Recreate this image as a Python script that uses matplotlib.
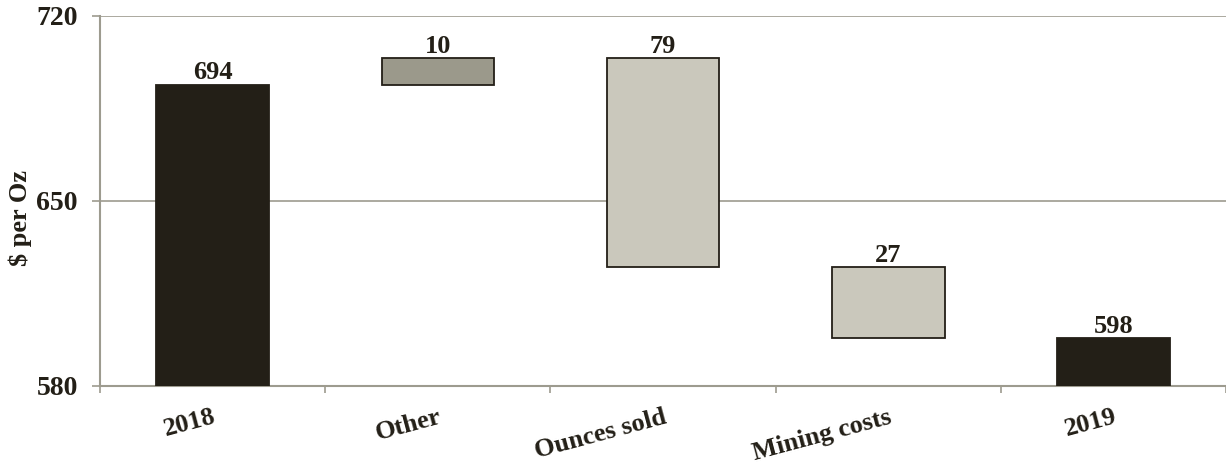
import matplotlib
matplotlib.use('Agg')
import matplotlib.pyplot as plt
import numpy as np

# Cost per ounce bridge, 2018 -> 2019
categories = ['2018', 'Other', 'Ounces sold', 'Mining costs', '2019']
start_value = 694
changes = [10, -79, -27]
end_value = 598
label_values = [694, 10, 79, 27, 598]

plt.rcParams['font.family'] = ['Liberation Serif', 'DejaVu Serif']
plt.rcParams['font.weight'] = 'bold'

dark = '#231f17'
mid = '#9b998b'
light = '#cac8bc'
axis_grey = '#9d9b8f'

# waterfall geometry
bottoms, heights, colors = [580], [start_value - 580], [dark]
level = start_value
for ch in changes:
    new_level = level + ch
    bottoms.append(min(level, new_level))
    heights.append(abs(ch))
    colors.append(mid if ch > 0 else light)
    level = new_level
bottoms.append(580)
heights.append(end_value - 580)
colors.append(dark)

fig = plt.figure(figsize=(12.26, 4.65), dpi=100)
ax = fig.add_axes([0.0816, 0.170, 0.9184, 0.7956])

x = np.arange(len(categories))
for i in range(len(categories)):
    ax.bar(x[i], heights[i], bottom=bottoms[i], width=0.5, color=colors[i],
           edgecolor=dark, linewidth=1.3, zorder=3)
    top = bottoms[i] + heights[i]
    ax.text(x[i], top + 0.1, str(label_values[i]), ha='center', va='bottom',
            fontsize=19, fontweight='bold', color=dark, zorder=4)

ax.set_xlim(-0.5, 4.5)
ax.set_ylim(580, 720)
ax.set_yticks([580, 650, 720])
ax.set_yticklabels(['580', '650', '720'], fontsize=20, fontweight='bold', color=dark)
ax.yaxis.grid(True, color=axis_grey, linewidth=1.2, zorder=0)
ax.set_ylabel('$ per Oz', fontsize=19, fontweight='bold', color=dark)
ax.yaxis.set_label_coords(-0.06, 0.455)

# labels at centres, tick marks at category boundaries
ax.set_xticks(x)
ax.set_xticklabels(categories, fontsize=19, fontweight='bold', color=dark,
                   rotation=15, ha='right', rotation_mode='anchor')
ax.set_xticks(np.arange(-0.5, 5, 1), minor=True)
ax.tick_params(axis='x', which='major', length=0, pad=14)
ax.tick_params(axis='x', which='minor', length=5, color=axis_grey, width=1.2)
ax.tick_params(axis='y', length=6, color=axis_grey, width=1.2, pad=10)

for side in ['top', 'right']:
    ax.spines[side].set_visible(False)
for side in ['left', 'bottom']:
    ax.spines[side].set_color(axis_grey)
    ax.spines[side].set_linewidth(1.5)

fig.savefig('out.png', dpi=100)
